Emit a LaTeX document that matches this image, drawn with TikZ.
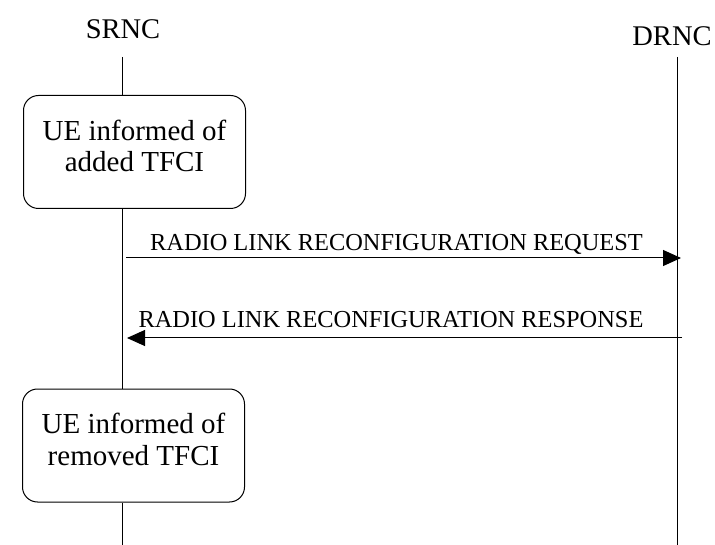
\documentclass[tikz,border=0pt]{standalone}
\usepackage{fontspec}
\setmainfont{Liberation Serif}
\usetikzlibrary{arrows.meta}
\begin{document}
\begin{tikzpicture}[x=1pt,y=-1pt,
  lifeline/.style={line width=1pt},
  actbox/.style={draw,line width=1pt,rounded corners=15pt,minimum width=222pt,minimum height=113pt,align=center,font=\fontsize{29}{31.5}\selectfont,inner sep=0pt,text depth=12.5pt},
  ent/.style={font=\fontsize{28.5}{30}\selectfont,inner sep=0pt,anchor=base},
  msg/.style={line width=1pt,-{Triangle[length=18pt,width=16pt]}},
  msglbl/.style={font=\fontsize{24.4}{26}\selectfont,inner sep=0pt,anchor=base}]
\useasboundingbox (0,0) rectangle (715,545);
\node[ent] (srnc) at (123,39) {SRNC};
\node[ent] (drnc) at (672,46) {DRNC};
\coordinate (s0) at (122,57);
\coordinate (s1) at (122,545);
\coordinate (d0) at (677,57);
\coordinate (d1) at (677,545);
\node[actbox] (b1) at (134.5,152) {UE informed of\\added TFCI};
\node[actbox] (b2) at (133.5,445.5) {UE informed of\\removed TFCI};
\draw[lifeline] (s0) -- (b1.north -| s0);
\draw[lifeline] (b1.south -| s0) -- (b2.north -| s0);
\draw[lifeline] (b2.south -| s0) -- (s1);
\draw[lifeline] (d0) -- (d1);
\coordinate (r0) at (126,258);
\coordinate (r1) at (681,258);
\coordinate (p0) at (682,338);
\coordinate (p1) at (127,338);
\draw[msg] (r0) -- (r1);
\draw[msg] (p0) -- (p1);
\node[msglbl] (lreq) at (396.5,251) {RADIO LINK RECONFIGURATION REQUEST};
\node[msglbl] (lres) at (391,328) {RADIO LINK RECONFIGURATION RESPONSE};
\end{tikzpicture}
\end{document}
